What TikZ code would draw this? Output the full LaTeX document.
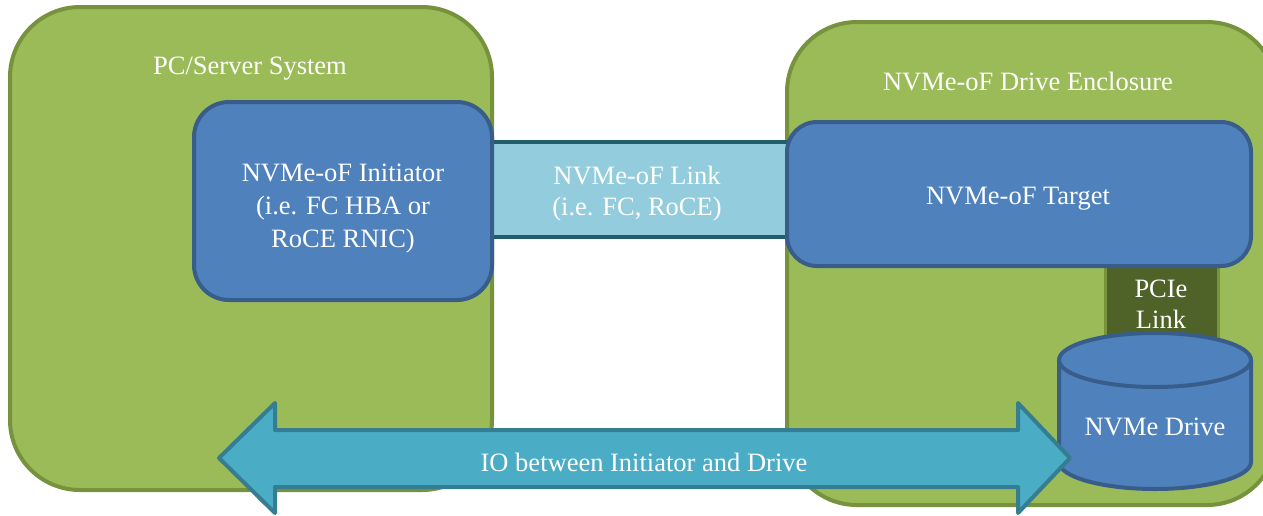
\documentclass[tikz,border=0pt]{standalone}
\usepackage{fontspec}
\setmainfont{Liberation Serif}
\definecolor{gfill}{HTML}{9BBB59}
\definecolor{gline}{HTML}{76923C}
\definecolor{bfill}{HTML}{4F81BD}
\definecolor{bline}{HTML}{385D8A}
\definecolor{lfill}{HTML}{93CDDD}
\definecolor{lline}{HTML}{235C6A}
\definecolor{afill}{HTML}{4BACC6}
\definecolor{aline}{HTML}{357D91}
\definecolor{pfill}{HTML}{4F6228}
\definecolor{pline}{HTML}{77933C}
\tikzset{
  sysbox/.style={draw=gline, fill=gfill, line width=4pt, rounded corners=70pt, inner sep=0pt},
  bluebox/.style={draw=bline, fill=bfill, line width=4pt, inner sep=0pt, text=white, align=center},
  lbl/.style={text=white, align=center, inner sep=0pt, font=\fontsize{26.5}{33}\selectfont},
}
\begin{document}
\begin{tikzpicture}[x=1pt,y=-1pt]
\useasboundingbox (0,0) rectangle (1263,515);
\clip (0,0) rectangle (1263,515);
\fill[white] (0,0) rectangle (1263,515);
% system boxes
\node[sysbox, minimum width=482pt, minimum height=483pt] (pc) at (251,248.5) {};
\node[sysbox, minimum width=490pt, minimum height=483pt] (encl) at (1032,263.5) {};
\node[lbl] (pclbl) at (250,69) {PC/Server System};
\node[lbl] (encllbl) at (1028,82) {NVMe-oF Drive Enclosure};
% link band
\node[draw=lline, fill=lfill, line width=4pt, minimum width=340pt, minimum height=95pt, inner sep=0pt] (link) at (640,189.5) {};
\node[lbl, font=\fontsize{26.5}{31}\selectfont] (linklbl) at (637,194) {NVMe-oF Link\\(i.e. FC, RoCE)};
% PCIe link
\node[draw=pline, fill=pfill, line width=3pt, minimum width=113pt, minimum height=85pt, inner sep=0pt] (pcie) at (1161.5,305) {};
\node[lbl, font=\fontsize{26.5}{31}\selectfont] (pcielbl) at (1161,304) {PCIe\\Link};
% initiator and target
\node[bluebox, rounded corners=35pt, minimum width=298pt, minimum height=198pt] (init) at (343,201) {};
\node[lbl] (initlbl) at (343,209) {NVMe-oF Initiator\\(i.e. FC HBA or\\RoCE RNIC)};
\node[bluebox, rounded corners=30pt, minimum width=464pt, minimum height=144pt] (target) at (1019,194) {};
\node[lbl] (targetlbl) at (1018,199) {NVMe-oF Target};
% drive cylinder
\coordinate (cyltop) at (1155,360);
\coordinate (cylbot) at (1155,462);
\fill[bfill] (cylbot) ellipse[x radius=96pt, y radius=27pt];
\fill[bfill] (1059,360) rectangle (1251,462);
\draw[bline, line width=4pt] (1059,360) -- (1059,462)
  arc[start angle=180, end angle=360, x radius=96pt, y radius=27pt] -- (1251,360);
\filldraw[draw=bline, fill=bfill, line width=4pt] (cyltop) ellipse[x radius=96pt, y radius=27pt];
\node[lbl] (drive) at (1155,427) {NVMe Drive};
% double arrow
\coordinate (ltip) at (219,458);
\coordinate (rtip) at (1070,458);
\filldraw[draw=aline, fill=afill, line width=4pt, line join=round]
  (ltip) -- (275,403) -- (275,430) -- (1018,430) -- (1018,403) -- (rtip)
  -- (1018,513) -- (1018,487) -- (275,487) -- (275,513) -- cycle;
\node[lbl] (io) at (644,462) {IO between Initiator and Drive};
\end{tikzpicture}
\end{document}
